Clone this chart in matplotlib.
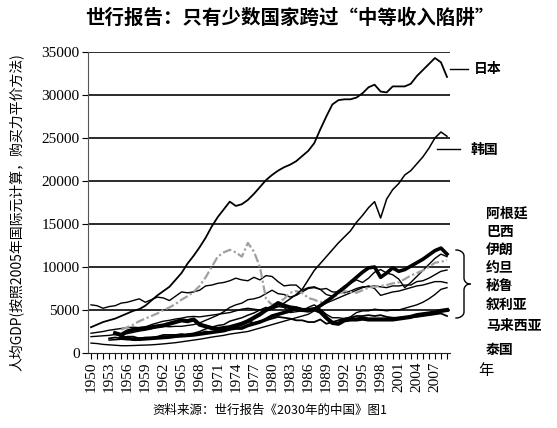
import numpy as np
import matplotlib
matplotlib.use("Agg")
import matplotlib.pyplot as plt
from matplotlib.lines import Line2D

# ---- data (per-capita GDP, 2005 international $, PPP) ----
japan_start = 1950
japan = [3000, 3300, 3600, 3800, 4000, 4300, 4600, 4900, 5100, 5500,
         6100, 6700, 7200, 7700, 8500, 9300, 10400, 11300, 12300, 13400,
         14700, 15800, 16700, 17600, 17100, 17300, 17800, 18500, 19300, 20100,
         20700, 21200, 21600, 21900, 22300, 22900, 23500, 24400, 26000, 27500,
         28900, 29400, 29500, 29500, 29700, 30200, 30900, 31200, 30400, 30300,
         31000, 31000, 31000, 31300, 32200, 32900, 33600, 34300, 33800, 32100]

korea_start = 1953
korea = [1500, 1550, 1600, 1550, 1650, 1700, 1700,
         1700, 1750, 1750, 1850, 1950, 2000, 2200, 2300, 2500, 2800,
         3000, 3200, 3300, 3700, 3900, 4100, 4400, 4650, 5000, 5300,
         5100, 5400, 5800, 6300, 6800, 7400, 8500, 9600, 10400, 11200,
         12000, 12800, 13500, 14200, 15200, 16000, 16900, 17600, 15700, 17900,
         19000, 19700, 20700, 21200, 22000, 22800, 23800, 25000, 25700, 25200]

argentina_start = 1950
argentina = [5600, 5500, 5200, 5400, 5500, 5800, 5900, 6100, 6300, 5900,
             6200, 6500, 6400, 6100, 6600, 7100, 7000, 7100, 7300, 7800,
             7900, 8100, 8200, 8400, 8700, 8500, 8400, 8800, 8500, 9000,
             8900, 8300, 7800, 7900, 7900, 7300, 7600, 7700, 7400, 6800,
             6600, 7200, 7800, 8100, 8500, 8200, 8700, 9400, 9700, 9300,
             9100, 8600, 7600, 8200, 8900, 9600, 10300, 11000, 11500, 11200]

brazil_start = 1950
brazil = [1900, 1950, 2000, 2050, 2150, 2250, 2250, 2400, 2550, 2650,
          2800, 3000, 3100, 3050, 3100, 3100, 3200, 3300, 3500, 3800,
          4100, 4400, 4800, 5300, 5600, 5800, 6200, 6300, 6500, 6900,
          7300, 6900, 6800, 6500, 6700, 7100, 7500, 7600, 7400, 7500,
          7100, 7100, 7000, 7200, 7500, 7700, 7700, 7800, 7700, 7600,
          7800, 7800, 7900, 7900, 8300, 8400, 8700, 9100, 9500, 9650]

iran_start = 1955
iran = [2700, 3000, 3300, 3700, 4000,
        4300, 4600, 5000, 5300, 5700, 6200, 6600, 7100, 7800, 8800,
        10000, 11200, 11700, 12000, 11700, 11200, 12800, 11800, 10000, 6300,
        5600, 5800, 6300, 7000, 7200, 7000, 6400, 6200, 5900, 6100,
        6300, 6900, 7200, 7100, 7000, 7300, 7600, 7700, 7800, 7900,
        8100, 8200, 8600, 9000, 9300, 9600, 10000, 10500, 10600, 10800]

jordan_start = 1954
jordan = [2300, 2100, 2500, 2700, 2800, 2900,
          3000, 3100, 3200, 3400, 3600, 3800, 3700, 3900, 3300, 3100,
          2900, 2800, 2900, 3000, 3200, 3400, 3700, 4100, 4500, 5000,
          5300, 5800, 5500, 5300, 5200, 5000, 5000, 5100, 4800, 4100,
          3500, 3400, 3800, 3900, 3900, 4000, 3900, 3900, 3900, 3900,
          3900, 4000, 4100, 4200, 4400, 4500, 4600, 4700, 4900, 5000]

peru_start = 1950
peru = [2300, 2400, 2500, 2650, 2750, 2850, 2950, 3000, 2950, 3000,
        3300, 3500, 3700, 3800, 3950, 4050, 4200, 4250, 4200, 4300,
        4400, 4500, 4600, 4700, 4900, 5100, 5200, 5100, 5000, 5100,
        5300, 5400, 5300, 4700, 4800, 4900, 5300, 5600, 5100, 4500,
        4100, 4100, 4000, 4200, 4700, 4900, 4900, 5100, 5000, 4900,
        5000, 5000, 5200, 5400, 5600, 5900, 6300, 6800, 7400, 7600]

syria_start = 1953
syria = [1700, 1800, 1700, 1900, 1900, 1700, 1800,
         1800, 1900, 2100, 2100, 2100, 2200, 2100, 2200, 2300, 2500,
         2400, 2600, 2900, 2700, 3200, 3500, 3700, 3500, 3700, 3800,
         4000, 4200, 4100, 4000, 3800, 3800, 3600, 3600, 3900, 3400,
         3600, 3800, 4000, 4100, 4300, 4300, 4400, 4300, 4400, 4200,
         4100, 4100, 4200, 4200, 4200, 4300, 4400, 4500, 4600, 4300]

malaysia_start = 1955
malaysia = [1900, 1700, 1600, 1600, 1650,
            1700, 1750, 1800, 1850, 1950, 2000, 2050, 2100, 2200, 2300,
            2400, 2500, 2600, 2800, 2900, 2900, 3200, 3400, 3600, 3900,
            4300, 4500, 4700, 4900, 5200, 5000, 4900, 5100, 5500, 6000,
            6500, 7100, 7600, 8200, 8800, 9400, 9900, 10000, 8800, 9300,
            9900, 9500, 9700, 10100, 10500, 10900, 11400, 11900, 12200, 11500]

thailand_start = 1950
thailand = [1150, 1100, 1000, 950, 900, 850, 850, 870, 900, 920,
            950, 1000, 1060, 1130, 1200, 1300, 1400, 1500, 1600, 1720,
            1850, 1950, 2050, 2200, 2300, 2400, 2500, 2700, 2900, 3100,
            3300, 3500, 3700, 3900, 4100, 4300, 4500, 4900, 5400, 5800,
            6100, 6400, 6700, 7000, 7300, 7600, 7800, 7500, 6700, 6900,
            7100, 7200, 7400, 7600, 7800, 7900, 8100, 8300, 8300, 8150]

group_names = ["阿根廷", "巴西", "伊朗", "约旦", "秘鲁", "叙利亚", "马来西亚", "泰国"]
y_ticks = list(range(0, 35001, 5000))
x_label_years = list(range(1950, 2008, 3))

W, H = 557, 428
CJK = ["Noto Sans CJK SC", "DejaVu Sans"]
SERIF = ["Liberation Serif", "DejaVu Serif"]


def px(x, y):
    # pixel position (from top-left) -> figure fraction
    return x / W, 1 - y / H


def yrs(start, vals):
    return np.arange(start, start + len(vals))


fig = plt.figure(figsize=(W / 100, H / 100), dpi=100)
ax = fig.add_axes([88 / W, 1 - 353 / H, (450 - 88) / W, (353 - 52) / H])

thin = dict(color="black", lw=1.0, solid_joinstyle="round")
ax.plot(yrs(thailand_start, thailand), thailand, **thin)
ax.plot(yrs(syria_start, syria), syria, color="black", lw=1.3)
ax.plot(yrs(peru_start, peru), peru, **thin)
ax.plot(yrs(brazil_start, brazil), brazil, **thin)
ax.plot(yrs(argentina_start, argentina), argentina, **thin)
ax.plot(yrs(iran_start, iran), iran, color="#a0a0a0", lw=1.6,
        linestyle=(0, (4, 1.2, 1, 1.2)))
ax.plot(yrs(jordan_start, jordan), jordan, color="black", lw=3.0,
        solid_joinstyle="round")
ax.plot(yrs(malaysia_start, malaysia), malaysia, color="black", lw=2.6,
        solid_joinstyle="round")
ax.plot(yrs(korea_start, korea), korea, color="black", lw=1.1)
ax.plot(yrs(japan_start, japan), japan, color="black", lw=1.3)

ax.set_xlim(1949.5, 2009.5)
ax.set_ylim(0, 35000)
ax.set_yticks(y_ticks)
ax.set_yticklabels([str(v) for v in y_ticks], family=SERIF, fontsize=11)
ax.set_xticks(x_label_years)
ax.set_xticklabels([str(v) for v in x_label_years], family=SERIF, fontsize=11,
                   rotation=90)
ax.set_xticks(np.arange(1950, 2010), minor=True)
ax.tick_params(axis="x", which="both", direction="out", length=4, width=0.8,
               pad=2)
ax.tick_params(axis="y", direction="out", length=4, width=0.8, pad=2)
for v in y_ticks[1:]:
    ax.axhline(v, color="#1a1a1a", lw=1.3, zorder=0)
for s in ["top", "right"]:
    ax.spines[s].set_visible(False)
ax.spines["left"].set_color("#555555")
ax.spines["bottom"].set_color("#222222")

# title, axis label, source
fig.text(*px(290, 18), "世行报告：只有少数国家跨过“中等收入陷阱”", family=CJK,
         fontsize=14, fontweight="bold", ha="center", va="center")
fig.text(*px(16, 212), "人均GDP(按照2005年国际元计算，购买力平价方法)",
         family=CJK, fontsize=10, rotation=90, ha="center", va="center")
fig.text(*px(478, 370), "年", family=CJK, fontsize=11, ha="left",
         va="center")
fig.text(*px(270, 410), "资料来源：世行报告《2030年的中国》图1", family=CJK,
         fontsize=9, ha="center", va="center")

# Japan / Korea labels
fig.add_artist(Line2D([450 / W, 468 / W], [1 - 69 / H, 1 - 69 / H],
                      color="black", lw=1.0))
fig.text(*px(474, 69), "日本", family=CJK, fontsize=10, fontweight="bold",
         va="center")
fig.add_artist(Line2D([437 / W, 460 / W], [1 - 149 / H, 1 - 149 / H],
                      color="black", lw=1.0))
fig.text(*px(471, 150), "韩国", family=CJK, fontsize=10, fontweight="bold",
         va="center")

# group labels
label_y = [214, 232, 250, 268, 287, 306, 326, 350]
for name, yy in zip(group_names, label_y):
    fig.text(*px(486, yy), name, family=CJK, fontsize=10, fontweight="bold",
             va="center")

# curly brace
x0, x1, xt = 456, 464, 470
y0, y1 = 250, 318
ym = (y0 + y1) / 2
r = 6
t = np.linspace(0, np.pi / 2, 12)
top = np.column_stack([x0 + (x1 - x0) * np.sin(t), y0 + r * (1 - np.cos(t))])
mid1 = np.column_stack([x1 + (xt - x1) * (1 - np.cos(t)), ym - r + r * np.sin(t)])
upper = np.vstack([top, [[x1, ym - r]], mid1])
lower = upper.copy()
lower[:, 1] = 2 * ym - lower[:, 1]
for part in (upper, lower):
    fig.add_artist(Line2D(part[:, 0] / W, 1 - part[:, 1] / H, color="black",
                          lw=1.0))

fig.savefig("out.png", dpi=100)
